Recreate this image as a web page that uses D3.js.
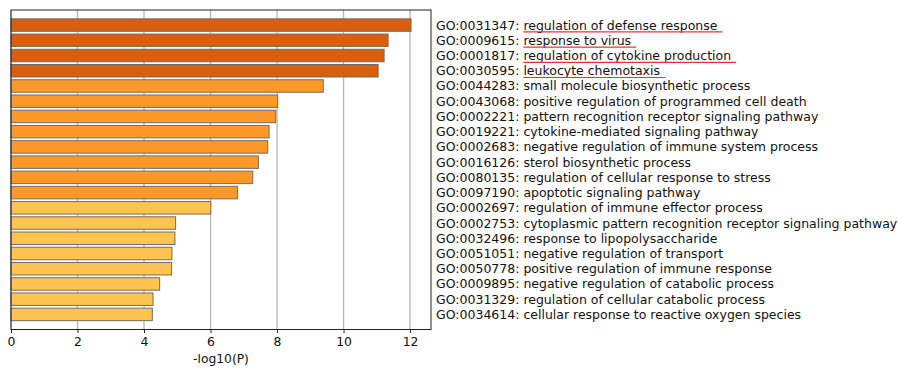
<!DOCTYPE html>
<html>
<head>
<meta charset="utf-8">
<script src="https://cdn.jsdelivr.net/npm/d3@7"></script>
<style>
html,body{margin:0;padding:0;background:#fff;}
svg{display:block;}
text{font-family:"DejaVu Sans",sans-serif;}
</style>
</head>
<body>
<svg id="chart" width="898" height="369"></svg>
<script>
const goIds = ["GO:0031347","GO:0009615","GO:0001817","GO:0030595","GO:0044283","GO:0043068","GO:0002221","GO:0019221","GO:0002683","GO:0016126","GO:0080135","GO:0097190","GO:0002697","GO:0002753","GO:0032496","GO:0051051","GO:0050778","GO:0009895","GO:0031329","GO:0034614"];
const terms = ["regulation of defense response","response to virus","regulation of cytokine production","leukocyte chemotaxis","small molecule biosynthetic process","positive regulation of programmed cell death","pattern recognition receptor signaling pathway","cytokine-mediated signaling pathway","negative regulation of immune system process","sterol biosynthetic process","regulation of cellular response to stress","apoptotic signaling pathway","regulation of immune effector process","cytoplasmic pattern recognition receptor signaling pathway","response to lipopolysaccharide","negative regulation of transport","positive regulation of immune response","negative regulation of catabolic process","regulation of cellular catabolic process","cellular response to reactive oxygen species"];
const values = [12.03,11.34,11.22,11.04,9.39,8.02,7.96,7.76,7.72,7.44,7.27,6.81,6.01,4.95,4.93,4.84,4.83,4.47,4.27,4.25];
const tiers = [0,0,0,0,1,1,1,1,1,1,1,1,2,2,2,2,2,2,2,2];
const highlighted = [true,true,true,true,false,false,false,false,false,false,false,false,false,false,false,false,false,false,false,false];
const xTicks = [0,2,4,6,8,10,12];
const xLabel = "-log10(P)";

const tierColors = ["#d95f0e","#fe9929","#fec44f"];

const svg = d3.select("#chart");
const mLeft = 11, mRight = 431, mTop = 10, mBottom = 329.5;

const x = d3.scaleLinear().domain([0, 12.63]).range([mLeft, mRight]);
const y = d3.scaleBand().domain(d3.range(values.length)).range([mTop, mBottom]).paddingInner(0.18).paddingOuter(0.58);

// gridlines
svg.append("g").selectAll("line").data(xTicks).join("line")
  .attr("x1", d => x(d)).attr("x2", d => x(d))
  .attr("y1", mTop).attr("y2", mBottom)
  .attr("stroke", "#b5b5b5").attr("stroke-width", 1.3);

// bars
svg.append("g").selectAll("rect").data(values).join("rect")
  .attr("x", x(0))
  .attr("y", (d, i) => y(i))
  .attr("width", d => x(d) - x(0))
  .attr("height", y.bandwidth())
  .attr("fill", (d, i) => tierColors[tiers[i]])
  .attr("stroke", "#6e6e6e").attr("stroke-width", 1);

// frame
svg.append("rect").attr("x", mLeft).attr("y", mTop).attr("width", mRight - mLeft).attr("height", mBottom - mTop)
  .attr("fill", "none").attr("stroke", "#222").attr("stroke-width", 1);

// x axis
const xAxis = d3.axisBottom(x).tickValues(xTicks).tickFormat(d3.format("d")).tickSize(3.5).tickPadding(4);
const gx = svg.append("g").attr("transform", `translate(0,${mBottom})`).call(xAxis);
gx.select(".domain").remove();
gx.selectAll(".tick line").attr("stroke", "#222");
gx.selectAll(".tick text").attr("font-size", "12.4px").attr("fill", "#111").attr("font-family", "DejaVu Sans");

svg.append("text").attr("x", (x(0) + x(12.63)) / 2).attr("y", 363)
  .attr("text-anchor", "middle").attr("font-size", "12.3px").attr("fill", "#111").text(xLabel);

// labels
const lg = svg.append("g");
goIds.forEach((id, i) => {
  const cy = y(i) + y.bandwidth() / 2;
  const t = lg.append("text").attr("x", mRight + 5).attr("y", cy)
    .attr("dy", "0.36em").attr("font-size", "12.5px").attr("fill", "#111");
  const s1 = t.append("tspan").text(id + ": ");
  const s2 = t.append("tspan").text(terms[i]);
  if (highlighted[i]) {
    const x0 = mRight + 5 + s1.node().getComputedTextLength();
    const w = s2.node().getComputedTextLength();
    lg.append("line").attr("x1", x0).attr("x2", x0 + w + 5)
      .attr("y1", cy + 6.8).attr("y2", cy + 6.8)
      .attr("stroke", "#e8323a").attr("stroke-width", 1.1);
  }
});
</script>
</body>
</html>
